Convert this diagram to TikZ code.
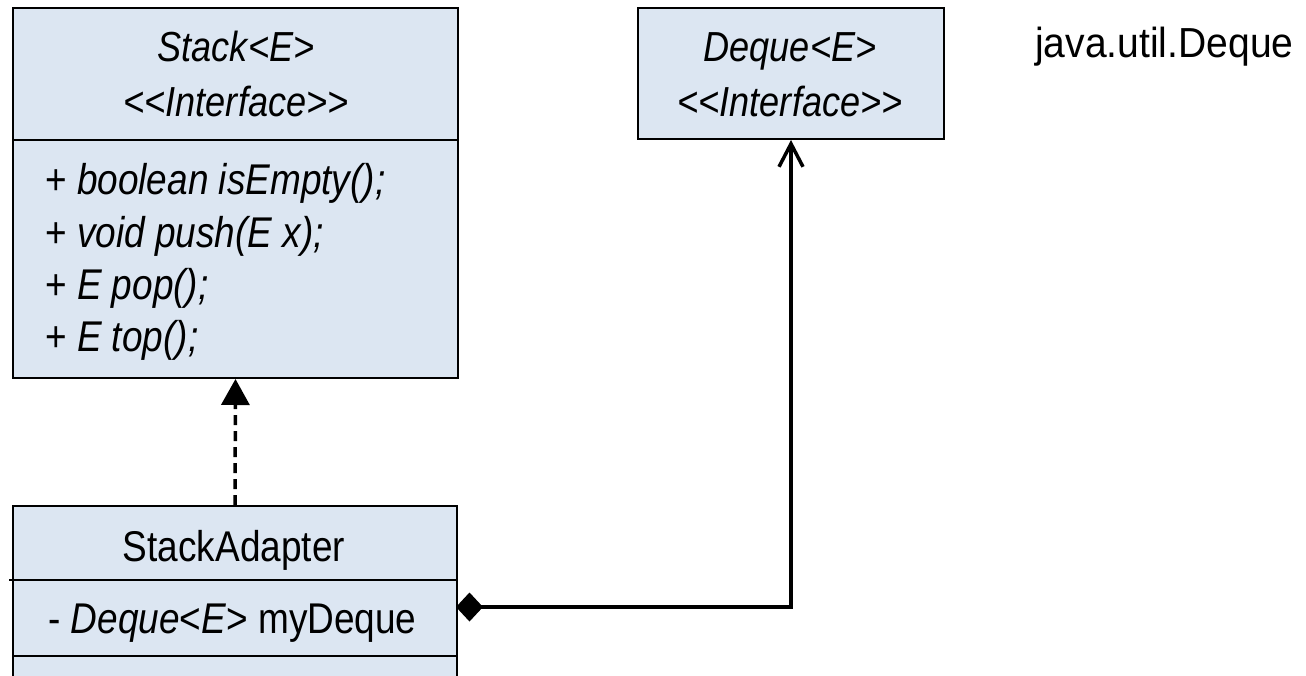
\documentclass[tikz,border=0pt]{standalone}
\usepackage{fontspec}
\newfontfamily\umlfont{Liberation Sans}[FakeStretch=0.86]
\newfontfamily\pkgfont{Liberation Sans}[FakeStretch=0.93]
\usetikzlibrary{arrows.meta}
\definecolor{boxfill}{HTML}{DCE6F2}
\tikzset{
  umlbox/.style={draw=black, line width=2pt, fill=boxfill, rectangle, inner sep=0pt, anchor=north west},
  divider/.style={draw=black, line width=2pt},
  titletxt/.style={inner sep=0pt, anchor=base, font=\umlfont\fontsize{42}{46}\selectfont},
  membertxt/.style={inner sep=0pt, anchor=base west, font=\umlfont\fontsize{43}{46}\selectfont},
  realize/.style={line width=3.5pt, dash pattern=on 10pt off 6pt, -{Triangle[length=26pt,width=28pt]}},
  compose/.style={line width=3.5pt, line join=miter, {Diamond[length=27pt,width=29pt]}-{Straight Barb[length=23pt,width=24pt]}}
}
\begin{document}
\begin{tikzpicture}[x=1pt,y=-1pt]
\useasboundingbox (0,0) rectangle (1306,675);
\clip (0,0) rectangle (1306,675);
% boxes
\node[umlbox, minimum width=445pt, minimum height=370pt] (stack) at (12,7) {};
\node[umlbox, minimum width=306pt, minimum height=131pt] (deque) at (637,7) {};
\node[umlbox, minimum width=444pt, minimum height=250pt] (adapter) at (12,505) {};
% dividers
\draw[divider] (stack.west |- 0,140) -- (stack.east |- 0,140);
\draw[divider] (9,580) -- (adapter.east |- 0,580);
\draw[divider] (adapter.west |- 0,656) -- (adapter.east |- 0,656);
% texts
\node[titletxt] (stitle) at (236,61) {\itshape Stack<E>};
\node[titletxt] (sster) at (236,116) {\itshape <<Interface>>};
\node[membertxt] (m1) at (45,194) {+ \itshape boolean isEmpty();};
\node[membertxt] (m2) at (45,247) {+ \itshape void push(E x);};
\node[membertxt] (m3) at (45,299) {+ \itshape E pop();};
\node[membertxt] (m4) at (45,351) {+ \itshape E top();};
\node[titletxt] (dtitle) at (790,61) {\itshape Deque<E>};
\node[titletxt] (dster) at (790,116) {\itshape <<Interface>>};
\node[titletxt, font=\umlfont\fontsize{43}{46}\selectfont] (atitle) at (234,561) {StackAdapter};
\node[membertxt] (aattr) at (48,633) {- \textit{Deque}<\textit{E}> myDeque};
\node[membertxt, font=\pkgfont\fontsize{42}{46}\selectfont] (pkg) at (1035,57) {java.util.Deque};
% connectors
\draw[realize] (adapter.north) -- (stack.south);
\coordinate (dm) at (456,607);
\coordinate (bend) at (deque.south |- dm);
\draw[compose] (dm) -- (bend) -- (deque.south);
\end{tikzpicture}
\end{document}
